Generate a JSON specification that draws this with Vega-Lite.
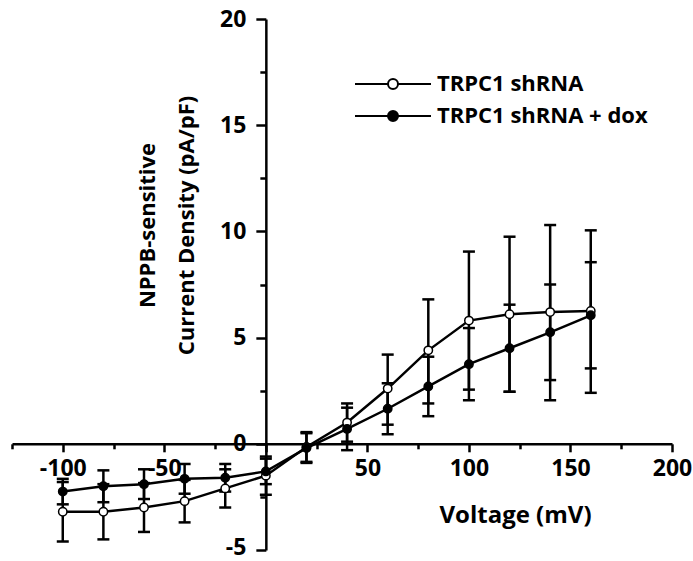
{
  "$schema": "https://vega.github.io/schema/vega-lite/v6.json",
  "autosize": {"type": "none"},
  "width": 660,
  "height": 531,
  "padding": {"left": 12, "top": 19, "right": 21, "bottom": 11},
  "background": "white",
  "data": {
    "values": [
      {"v": -100, "series": "TRPC1 shRNA", "mean": -3.2, "lo": -4.6, "hi": -1.8},
      {"v": -80, "series": "TRPC1 shRNA", "mean": -3.2, "lo": -4.5, "hi": -1.9},
      {"v": -60, "series": "TRPC1 shRNA", "mean": -3.0, "lo": -4.15, "hi": -1.85},
      {"v": -40, "series": "TRPC1 shRNA", "mean": -2.7, "lo": -3.7, "hi": -1.7},
      {"v": -20, "series": "TRPC1 shRNA", "mean": -2.1, "lo": -3.0, "hi": -1.2},
      {"v": 0, "series": "TRPC1 shRNA", "mean": -1.5, "lo": -2.4, "hi": -0.6},
      {"v": 20, "series": "TRPC1 shRNA", "mean": -0.15, "lo": -0.85, "hi": 0.55},
      {"v": 40, "series": "TRPC1 shRNA", "mean": 1.0, "lo": 0.1, "hi": 1.9},
      {"v": 60, "series": "TRPC1 shRNA", "mean": 2.6, "lo": 0.9, "hi": 4.2},
      {"v": 80, "series": "TRPC1 shRNA", "mean": 4.4, "lo": 1.9, "hi": 6.8},
      {"v": 100, "series": "TRPC1 shRNA", "mean": 5.8, "lo": 2.55, "hi": 9.05},
      {"v": 120, "series": "TRPC1 shRNA", "mean": 6.1, "lo": 2.45, "hi": 9.75},
      {"v": 140, "series": "TRPC1 shRNA", "mean": 6.2, "lo": 2.05, "hi": 10.3},
      {"v": 160, "series": "TRPC1 shRNA", "mean": 6.25, "lo": 2.4, "hi": 10.05},
      {"v": -100, "series": "TRPC1 shRNA + dox", "mean": -2.25, "lo": -2.85, "hi": -1.65},
      {"v": -80, "series": "TRPC1 shRNA + dox", "mean": -2.0, "lo": -2.75, "hi": -1.25},
      {"v": -60, "series": "TRPC1 shRNA + dox", "mean": -1.9, "lo": -2.6, "hi": -1.2},
      {"v": -40, "series": "TRPC1 shRNA + dox", "mean": -1.65, "lo": -2.35, "hi": -0.95},
      {"v": -20, "series": "TRPC1 shRNA + dox", "mean": -1.6, "lo": -2.25, "hi": -0.95},
      {"v": 0, "series": "TRPC1 shRNA + dox", "mean": -1.3, "lo": -1.9, "hi": -0.7},
      {"v": 20, "series": "TRPC1 shRNA + dox", "mean": -0.2, "lo": -0.9, "hi": 0.5},
      {"v": 40, "series": "TRPC1 shRNA + dox", "mean": 0.7, "lo": -0.3, "hi": 1.7},
      {"v": 60, "series": "TRPC1 shRNA + dox", "mean": 1.65, "lo": 0.45, "hi": 2.85},
      {"v": 80, "series": "TRPC1 shRNA + dox", "mean": 2.7, "lo": 1.3, "hi": 4.1},
      {"v": 100, "series": "TRPC1 shRNA + dox", "mean": 3.75, "lo": 2.05, "hi": 5.45},
      {"v": 120, "series": "TRPC1 shRNA + dox", "mean": 4.5, "lo": 2.45, "hi": 6.55},
      {"v": 140, "series": "TRPC1 shRNA + dox", "mean": 5.25, "lo": 3.0, "hi": 7.5},
      {"v": 160, "series": "TRPC1 shRNA + dox", "mean": 6.05, "lo": 3.55, "hi": 8.55}
    ]
  },
  "config": {
    "view": {"stroke": null},
    "axis": {
      "grid": false,
      "domainColor": "black",
      "domainWidth": 2.5,
      "tickColor": "black",
      "tickWidth": 2.5,
      "labelFont": "Open Sans",
      "labelFontWeight": "bold",
      "labelFontSize": 23,
      "labelColor": "black",
      "titleFont": "Open Sans",
      "titleFontWeight": "bold",
      "titleFontSize": 24,
      "titleColor": "black",
      "labelOverlap": false,
      "labelFlush": false,
      "labelBound": false
    },
    "legend": {
      "labelFont": "Open Sans",
      "labelFontWeight": "bold",
      "labelFontSize": 22,
      "labelColor": "black",
      "labelLimit": 400
    }
  },
  "layer": [
    {
      "mark": {"type": "line", "color": "black", "strokeWidth": 2.5},
      "encoding": {
        "x": {
          "field": "v",
          "type": "quantitative",
          "scale": {"domain": [-125, 200], "nice": false, "zero": false},
          "axis": {
            "orient": "bottom",
            "offset": -106.2,
            "values": [-125, -100, -75, -50, -25, 0, 25, 50, 75, 100, 125, 150, 175, 200],
            "labelExpr": "(datum.value % 50 === 0 && datum.value !== 0) ? replace(datum.label, '\u2212', '-') : ''",
            "tickSize": {"condition": {"test": "datum.value % 50 === 0", "value": 8}, "value": 5},
            "labelPadding": 6,
            "title": "Voltage (mV)",
            "titleX": 503,
            "titleY": 72,
            "titleBaseline": "middle",
            "titleAlign": "center"
          }
        },
        "y": {
          "field": "mean",
          "type": "quantitative",
          "scale": {"domain": [-5, 20], "nice": false, "zero": false},
          "axis": {
            "orient": "left",
            "offset": -253.85,
            "values": [-5, -2.5, 0, 2.5, 5, 7.5, 10, 12.5, 15, 17.5, 20],
            "labelExpr": "datum.value % 5 === 0 ? replace(datum.label, '\u2212', '-') : ''",
            "labelOffset": {"condition": {"test": "datum.value === -5", "value": -3}, "value": 0},
            "tickSize": {"condition": {"test": "datum.value % 5 === 0", "value": 10}, "value": 6},
            "labelPadding": 10,
            "title": ["NPPB-sensitive", "Current Density (pA/pF)"],
            "titleFontSize": 22,
            "titleLineHeight": 39,
            "titleX": -118,
            "titleY": 206,
            "titleBaseline": "middle",
            "titleAlign": "center"
          }
        },
        "detail": {"field": "series"}
      }
    },
    {
      "mark": {"type": "rule", "color": "black", "strokeWidth": 2.5},
      "encoding": {
        "x": {"field": "v", "type": "quantitative"},
        "y": {"field": "lo", "type": "quantitative"},
        "y2": {"field": "hi"}
      }
    },
    {
      "mark": {"type": "tick", "orient": "horizontal", "color": "black", "size": 12, "thickness": 2.5, "opacity": 1},
      "encoding": {
        "x": {"field": "v", "type": "quantitative"},
        "y": {"field": "lo", "type": "quantitative"}
      }
    },
    {
      "mark": {"type": "tick", "orient": "horizontal", "color": "black", "size": 12, "thickness": 2.5, "opacity": 1},
      "encoding": {
        "x": {"field": "v", "type": "quantitative"},
        "y": {"field": "hi", "type": "quantitative"}
      }
    },
    {
      "mark": {"type": "point", "shape": "circle", "size": 70, "filled": true, "stroke": "black", "strokeWidth": 1.5, "opacity": 1},
      "encoding": {
        "x": {"field": "v", "type": "quantitative"},
        "y": {"field": "mean", "type": "quantitative"},
        "fill": {
          "field": "series",
          "type": "nominal",
          "scale": {"domain": ["TRPC1 shRNA", "TRPC1 shRNA + dox"], "range": ["white", "black"]},
          "legend": {
            "title": null,
            "orient": "none",
            "legendX": 370,
            "legendY": 54,
            "padding": 0,
            "symbolType": "M-3.8,0H-0.5M0.5,0H3.8M0.5,0A0.5,0.5,0,1,1,-0.5,0A0.5,0.5,0,1,1,0.5,0Z",
            "symbolSize": 400,
            "symbolStrokeColor": "black",
            "symbolStrokeWidth": 2,
            "symbolOpacity": 1,
            "labelOffset": 33,
            "rowPadding": 10
          }
        }
      }
    }
  ]
}
